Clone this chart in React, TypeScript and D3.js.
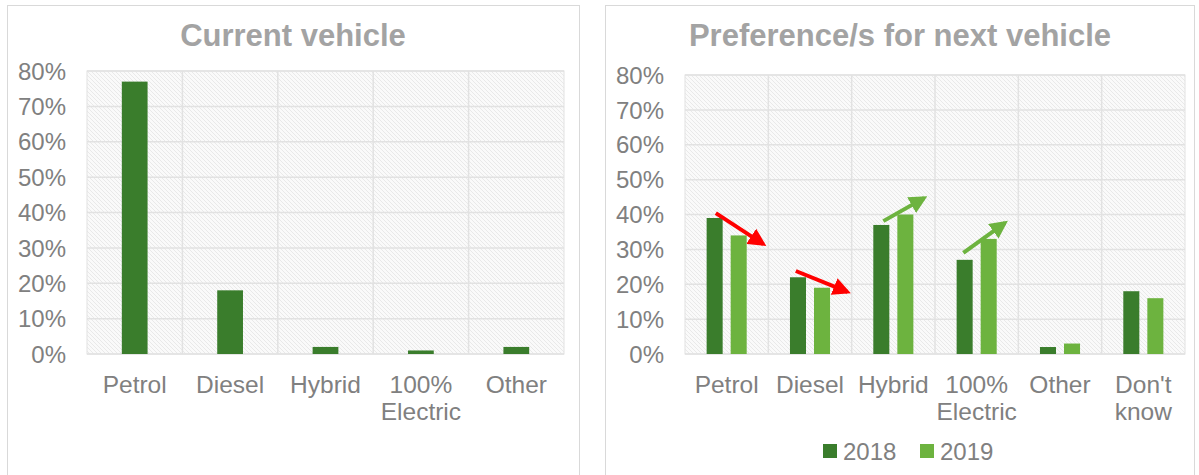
import * as d3 from "d3";

// data
const currentCats = ["Petrol", "Diesel", "Hybrid", "100%\nElectric", "Other"];
const currentVals = [77, 18, 2, 1, 2];

const nextCats = ["Petrol", "Diesel", "Hybrid", "100%\nElectric", "Other", "Don't\nknow"];
const years = ["2018", "2019"];
const vals2018 = [39, 22, 37, 27, 2, 18];
const vals2019 = [34, 19, 40, 33, 3, 16];

const yTicks = [0, 10, 20, 30, 40, 50, 60, 70, 80];

// trend arrows: category, start fraction across band, start value, end fraction, end value
const trendArrows = [
  { cat: "Petrol", f0: 0.37, v0: 40.4, f1: 0.94, v1: 31.5, color: "#ff0000" },
  { cat: "Diesel", f0: 0.33, v0: 23.8, f1: 0.95, v1: 17.8, color: "#ff0000" },
  { cat: "Hybrid", f0: 0.38, v0: 38.1, f1: 0.87, v1: 44.7, color: "#6db33f" },
  { cat: "100%\nElectric", f0: 0.34, v0: 29, f1: 0.84, v1: 37.6, color: "#6db33f" },
];

const DARK = "#3a7d2c";
const LIGHT = "#6db33f";
const TEXT = "#808080";
const FONT = "'Liberation Sans', Arial, sans-serif";

function PlotFrame({ x, y, cats, id }) {
  const [x0, x1] = x.range();
  const [y0, y1] = y.range();
  return (
    <g>
      <rect x={x0} y={y1} width={x1 - x0} height={y0 - y1} fill={`url(#${id})`} stroke="#e2e2e2" />
      {yTicks.map(t => (
        <line key={t} x1={x0} x2={x1} y1={y(t)} y2={y(t)} stroke="#e2e2e2" strokeWidth={1.5} />
      ))}
      {cats.slice(1).map(c => (
        <line key={c} x1={x(c)} x2={x(c)} y1={y1} y2={y0} stroke="#e2e2e2" strokeWidth={1.5} />
      ))}
      {yTicks.map(t => (
        <text key={t} x={x0 - 21} y={y(t)} dy="0.36em" textAnchor="end" fontSize={24} fill={TEXT}>
          {t}%
        </text>
      ))}
      {cats.map(c => (
        <text key={c} x={x(c) + x.bandwidth() / 2} y={y0 + 39} textAnchor="middle" fontSize={24.5} fill={TEXT}>
          {c.split("\n").map((s, i) => (
            <tspan key={i} x={x(c) + x.bandwidth() / 2} dy={i === 0 ? 0 : 27}>{s}</tspan>
          ))}
        </text>
      ))}
    </g>
  );
}

export default function App() {
  const W = 1199, H = 475;

  const xL = d3.scaleBand().domain(currentCats).range([87, 564]);
  const yL = d3.scaleLinear().domain([0, 80]).range([354, 71]);
  const barL = xL.bandwidth() * 0.27;

  const xR = d3.scaleBand().domain(nextCats).range([685, 1185]);
  const yR = d3.scaleLinear().domain([0, 80]).range([354, 75]);
  const xInner = d3.scaleBand().domain(years).range([0, xR.bandwidth()]).paddingInner(1 / 3).paddingOuter(0.9);

  const series = [
    { year: "2018", values: vals2018, color: DARK },
    { year: "2019", values: vals2019, color: LIGHT },
  ];

  return (
    <svg width={W} height={H} style={{ position: "absolute", left: 0, top: 0, fontFamily: FONT }}>
      <defs>
        {["hatchL", "hatchR"].map(id => (
          <pattern key={id} id={id} width={4} height={4} patternUnits="userSpaceOnUse">
            <rect width={4} height={4} fill="#fafafa" />
            <path d="M-1,-1 L5,5 M3,-1 L5,1 M-1,3 L1,5" stroke="#e4e4e4" strokeWidth={0.8} />
          </pattern>
        ))}
        <marker id="headRed" viewBox="0 0 10 10" refX={8} refY={5} markerWidth={4.5} markerHeight={4.5} orient="auto">
          <path d="M0,0 L10,5 L0,10 z" fill="#ff0000" />
        </marker>
        <marker id="headGreen" viewBox="0 0 10 10" refX={8} refY={5} markerWidth={4.5} markerHeight={4.5} orient="auto">
          <path d="M0,0 L10,5 L0,10 z" fill={LIGHT} />
        </marker>
      </defs>
      <rect width={W} height={H} fill="#ffffff" />

      {/* left panel */}
      <rect x={7.5} y={5.5} width={572} height={H + 10} fill="#fff" stroke="#d9d9d9" />
      <text x={293} y={46} textAnchor="middle" fontSize={31} fontWeight="bold" fill="#a3a3a3">
        Current vehicle
      </text>
      <PlotFrame x={xL} y={yL} cats={currentCats} id="hatchL" />
      {currentCats.map((c, i) => (
        <rect
          key={c}
          x={xL(c) + (xL.bandwidth() - barL) / 2}
          y={yL(currentVals[i])}
          width={barL}
          height={yL(0) - yL(currentVals[i])}
          fill={DARK}
        />
      ))}

      {/* right panel */}
      <rect x={605.5} y={5.5} width={589} height={H + 10} fill="#fff" stroke="#d9d9d9" />
      <text x={900} y={46} textAnchor="middle" fontSize={31} fontWeight="bold" fill="#a3a3a3">
        Preference/s for next vehicle
      </text>
      <PlotFrame x={xR} y={yR} cats={nextCats} id="hatchR" />
      {series.map(s =>
        nextCats.map((c, i) => (
          <rect
            key={s.year + c}
            x={xR(c) + xInner(s.year)}
            y={yR(s.values[i])}
            width={xInner.bandwidth()}
            height={yR(0) - yR(s.values[i])}
            fill={s.color}
          />
        ))
      )}
      {trendArrows.map(a => (
        <line
          key={a.cat}
          x1={xR(a.cat) + a.f0 * xR.bandwidth()}
          y1={yR(a.v0)}
          x2={xR(a.cat) + a.f1 * xR.bandwidth()}
          y2={yR(a.v1)}
          stroke={a.color}
          strokeWidth={4}
          markerEnd={a.color === "#ff0000" ? "url(#headRed)" : "url(#headGreen)"}
        />
      ))}

      {/* legend */}
      {series.map((s, i) => (
        <g key={s.year} transform={`translate(${823 + i * 97},0)`}>
          <rect x={0} y={444} width={14} height={14} fill={s.color} />
          <text x={20} y={460} fontSize={24} fill={TEXT}>{s.year}</text>
        </g>
      ))}
    </svg>
  );
}
